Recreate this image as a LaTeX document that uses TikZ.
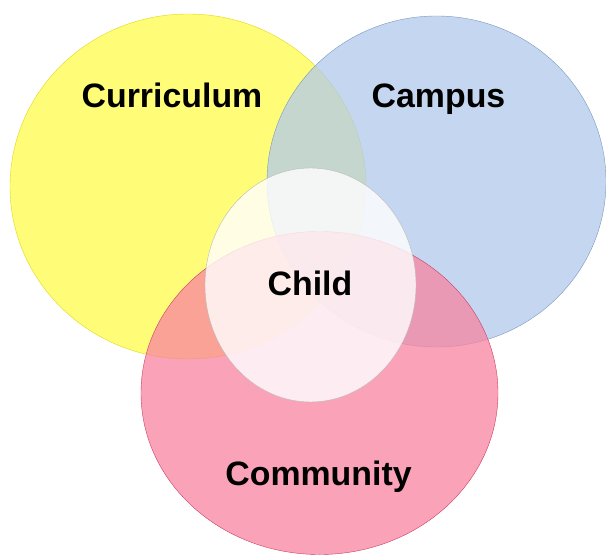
\documentclass[tikz,border=0pt]{standalone}
\usepackage{fontspec}
\setmainfont{Liberation Sans}
\usepackage{tikz}
\definecolor{currfill}{RGB}{255,253,120}
\definecolor{curredge}{RGB}{225,215,20}
\definecolor{campfill}{RGB}{177,202,235}
\definecolor{campedge}{RGB}{120,150,190}
\definecolor{commfill}{RGB}{248,132,160}
\definecolor{commedge}{RGB}{205,60,100}
\definecolor{childedge}{RGB}{185,185,185}

\begin{document}
\begin{tikzpicture}[x=1bp,y=-1bp,
    label/.style={font=\fontsize{34}{40}\selectfont\bfseries, anchor=base, inner sep=0pt}]
        \useasboundingbox (0,0) rectangle (606,556);

        % the four sets
        \filldraw[fill=currfill, draw=curredge, thin] (188,186.5) ellipse [x radius=178, y radius=172.5];
        \filldraw[fill=campfill, fill opacity=0.75, draw=campedge, draw opacity=1, thin] (436.5,181.5) ellipse [x radius=169.5, y radius=165.5];
        \filldraw[fill=commfill, fill opacity=0.75, draw=commedge, draw opacity=1, thin] (319.5,393) ellipse [x radius=178.5, y radius=161.5];
        \filldraw[fill=white, fill opacity=0.8, draw=childedge, draw opacity=1, thin] (310.5,285) ellipse [x radius=105.5, y radius=117];

        % labels
        \node[label] (curriculum) at (172,108) {Curriculum};
        \node[label] (campus) at (438.5,108) {Campus};
        \node[label] (child) at (310,295) {Child};
        \node[label] (community) at (318.5,485) {Community};
\end{tikzpicture}
\end{document}
